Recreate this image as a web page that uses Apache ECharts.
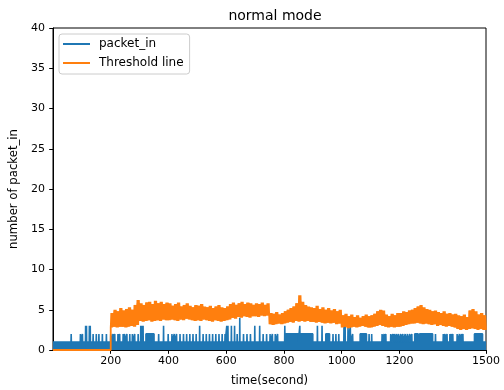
<!DOCTYPE html>
<html><head><meta charset="utf-8">
<script src="https://cdn.jsdelivr.net/npm/echarts@6/dist/echarts.min.js"></script>
<style>html,body{margin:0;padding:0;background:#fff}#c{width:504px;height:390px}</style>
</head><body><div id="c"></div>
<script>
// ---- data ----
const xTickValues = [200, 400, 600, 800, 1000, 1200, 1500];

// packet_in: baseline level and its spikes / plateaus
const packetBase = 1;
const spikeTimes = [63,95,102,113,116,126,129,139,150,159,171,185,
  200,208,214,225,231,243,248,256,266,275,283,295,
  304,308,312,329,335,344,366,383,399,
  412,420,428,440,452,463,474,485,496,508,520,531,542,553,564,575,586,596,
  602,606,618,629,638,647,660,672,684,699,716,728,740,
  752,760,770,778,803,855,916,932,970,980,990,
  1008,1012,1022,1030,1038,1095,1104,1140,1147,1153,
  1170,1177,1183,1190,1197,1205,1212,1220,1228,1236,1243,1325,
  1352,1358,1365,1375,1380,1385,1400,1408,1415,1420];
const spikeValues = [2,2,2,3,3,3,3,2,2,2,2,2,
  2,2,2,2,2,2,2,2,2,2,2,2,
  3,3,3,2,2,2,2,3,2,
  2,2,2,2,2,2,2,2,2,3,2,2,2,2,2,2,2,2,
  3,3,3,3,2,4,2,2,2,3,3,2,2,
  2,2,2,2,3,3,3,3,2,2,2,
  3,3,3,3,2,2,2,2,2,2,
  2,2,2,2,2,2,2,2,2,2,2,2,
  2,2,2,2,2,2,2,2,2,2];
const blockStarts = [322, 806, 859, 945, 1064, 1253, 1270, 1460];
const blockEnds   = [350, 850, 900, 958, 1086, 1265, 1315, 1488];
const blockValues = [2, 2, 2, 2, 2, 2, 2, 2];

// Threshold line: zero until 200 s, then noisy band sampled every 10 s (low / high)
const thresholdStart = 200;
const thresholdStep = 10;
const thresholdLow = [
  2.8,2.9,2.8,2.9,2.9,2.8,2.9,3.0,2.9,3.1,
  3.6,3.5,3.6,3.7,3.5,3.6,3.7,3.6,3.8,3.7,
  3.7,3.8,3.7,3.6,3.8,3.7,3.9,3.8,3.7,3.6,
  3.7,3.6,3.8,3.7,3.6,3.5,3.7,3.6,3.5,3.6,
  3.7,3.8,4.0,3.9,4.1,4.0,4.2,4.1,4.0,4.2,
  4.2,4.1,4.3,4.2,4.3,3.2,3.1,3.2,3.3,3.2,
  3.3,3.4,3.5,3.4,3.6,3.5,3.6,3.5,3.6,3.5,
  3.5,3.4,3.5,3.4,3.3,3.4,3.3,3.4,3.2,3.3,
  2.8,2.9,2.7,2.8,2.9,2.8,2.9,3.0,2.9,2.8,
  2.8,2.9,3.0,3.1,3.0,2.9,2.8,2.9,2.8,2.9,
  2.9,3.0,3.1,3.2,3.3,3.3,3.4,3.3,3.2,3.3,
  3.2,3.1,3.2,3.0,3.1,3.0,2.9,3.0,2.9,2.8,
  2.6,2.5,2.6,2.5,2.6,2.7,2.6,2.5,2.6,2.5];
const thresholdHigh = [
  4.6,5.0,4.8,5.2,4.9,5.1,5.3,5.0,5.6,6.2,
  5.8,5.6,5.9,6.0,5.7,6.1,5.8,6.0,5.7,5.9,
  5.8,5.5,5.7,5.9,5.4,5.6,5.8,5.5,5.3,5.6,
  5.5,5.7,5.4,5.3,5.5,5.2,5.4,5.6,5.3,5.2,
  5.4,5.7,5.9,5.6,5.8,6.0,5.7,5.9,5.8,5.6,
  5.8,5.7,5.9,5.6,5.8,4.6,4.5,4.7,4.4,4.6,
  4.8,5.0,5.2,5.4,5.8,6.8,6.0,5.6,5.4,5.3,
  5.2,5.5,5.1,5.3,5.0,5.2,4.9,5.1,4.8,5.0,
  4.3,4.5,4.2,4.4,4.1,4.3,4.0,4.2,4.4,4.2,
  4.3,4.5,4.8,5.0,4.9,4.4,4.2,4.5,4.3,4.6,
  4.6,4.8,4.7,4.9,5.0,5.2,5.4,5.6,5.3,5.1,
  5.0,4.8,4.9,4.7,4.6,4.8,4.5,4.6,4.4,4.5,
  4.3,4.2,4.4,4.1,4.9,5.1,4.8,4.4,4.6,4.3];

// ---- build series points ----
const events = [];
spikeTimes.forEach((t, i) => events.push({s: t, e: t, v: spikeValues[i]}));
blockStarts.forEach((s, i) => events.push({s: s, e: blockEnds[i], v: blockValues[i]}));
events.sort((a, b) => a.s - b.s);
const packetPts = [[0, packetBase]];
events.forEach(ev => {
  if (ev.s === ev.e) {
    packetPts.push([ev.s - 0.6, packetBase], [ev.s, ev.v], [ev.s + 0.6, packetBase]);
  } else {
    packetPts.push([ev.s, packetBase], [ev.s, ev.v], [ev.e, ev.v], [ev.e, packetBase]);
  }
});
packetPts.push([1500, packetBase]);

// each 10 s bin: the signal swings between its low and high twice
const thrPts = [[0, 0], [thresholdStart, 0]];
const q = thresholdStep / 4;
thresholdLow.forEach((lo, i) => {
  const t = thresholdStart + i * thresholdStep;
  const hi = thresholdHigh[i];
  thrPts.push([t, lo], [t + q, hi], [t + 2 * q, lo], [t + 3 * q, hi]);
});
thrPts.push([1500, thresholdLow[thresholdLow.length - 1]]);

// inner envelope of the swinging line per bin: [start, low, high]
const bandRows = thresholdLow.map((lo, i) => {
  const t = thresholdStart + i * thresholdStep;
  const nLo = i + 1 < thresholdLow.length ? thresholdLow[i + 1] : lo;
  const nHi = i + 1 < thresholdHigh.length ? thresholdHigh[i + 1] : thresholdHigh[i];
  return [t, Math.max(lo, nLo), Math.min(thresholdHigh[i], nHi)];
});

const F = 'DejaVu Sans';
const ORANGE = '#ff7f0e', BLUE = '#1f77b4';
const chart = echarts.init(document.getElementById('c'), null, {renderer: 'canvas'});
chart.setOption({
  animation: false,
  backgroundColor: '#fff',
  title: {
    text: 'normal mode', left: 270, top: 4, textAlign: 'center',
    textStyle: {fontFamily: F, fontSize: 14, fontWeight: 'normal', color: '#000'}
  },
  legend: {
    left: 59, top: 34, orient: 'vertical',
    itemWidth: 27, itemHeight: 2, itemGap: 7,
    padding: [4, 6, 5, 4],
    borderColor: '#cccccc', borderWidth: 1, borderRadius: 3,
    backgroundColor: 'rgba(255,255,255,0.8)',
    textStyle: {fontFamily: F, fontSize: 12, color: '#000', padding: [0, 0, 0, 4]},
    data: [{name: 'packet_in', icon: 'rect'}, {name: 'Threshold line', icon: 'rect'}]
  },
  grid: {left: 53, right: 18, top: 28, bottom: 40, show: true, borderColor: '#000', borderWidth: 1,
    outerBoundsMode: 'none', containLabel: false},
  xAxis: {
    type: 'value', min: 0, max: 1500,
    name: 'time(second)', nameLocation: 'middle', nameGap: 25,
    nameTextStyle: {fontFamily: F, fontSize: 11.7, color: '#000'},
    axisLine: {show: true, lineStyle: {color: '#000', width: 1}},
    axisTick: {show: true, length: 3.8, customValues: xTickValues, lineStyle: {color: '#000'}},
    axisLabel: {customValues: xTickValues, formatter: v => String(v),
      fontFamily: F, fontSize: 11, color: '#000', margin: 6},
    splitLine: {show: false}
  },
  yAxis: {
    type: 'value', min: 0, max: 40, interval: 5,
    name: 'number of packet_in', nameLocation: 'middle', nameGap: 28,
    nameTextStyle: {fontFamily: F, fontSize: 11.7, color: '#000'},
    axisLine: {show: true, lineStyle: {color: '#000', width: 1}},
    axisTick: {show: true, length: 3.8, lineStyle: {color: '#000'}},
    axisLabel: {fontFamily: F, fontSize: 11, color: '#000', margin: 8},
    splitLine: {show: false}
  },
  series: [
    {
      name: 'packet_in', type: 'line', data: packetPts, showSymbol: false,
      lineStyle: {color: BLUE, width: 1.6}, itemStyle: {color: BLUE},
      areaStyle: {color: BLUE, opacity: 1}, sampling: null, z: 2
    },
    {
      name: 'thrBand', type: 'custom', data: bandRows, silent: true, z: 3,
      encode: {x: 0, y: [1, 2]}, clip: true,
      renderItem: function (params, api) {
        const t = api.value(0), lo = api.value(1), hi = api.value(2);
        const a = api.coord([t, hi]);
        const b = api.coord([t + thresholdStep, lo]);
        return {type: 'rect', shape: {x: a[0], y: a[1], width: b[0] - a[0] + 0.6, height: b[1] - a[1]},
          style: {fill: ORANGE}};
      }
    },
    {
      name: 'Threshold line', type: 'line', data: thrPts, showSymbol: false,
      lineStyle: {color: ORANGE, width: 1.8}, itemStyle: {color: ORANGE}, z: 4
    }
  ]
});
</script></body></html>
